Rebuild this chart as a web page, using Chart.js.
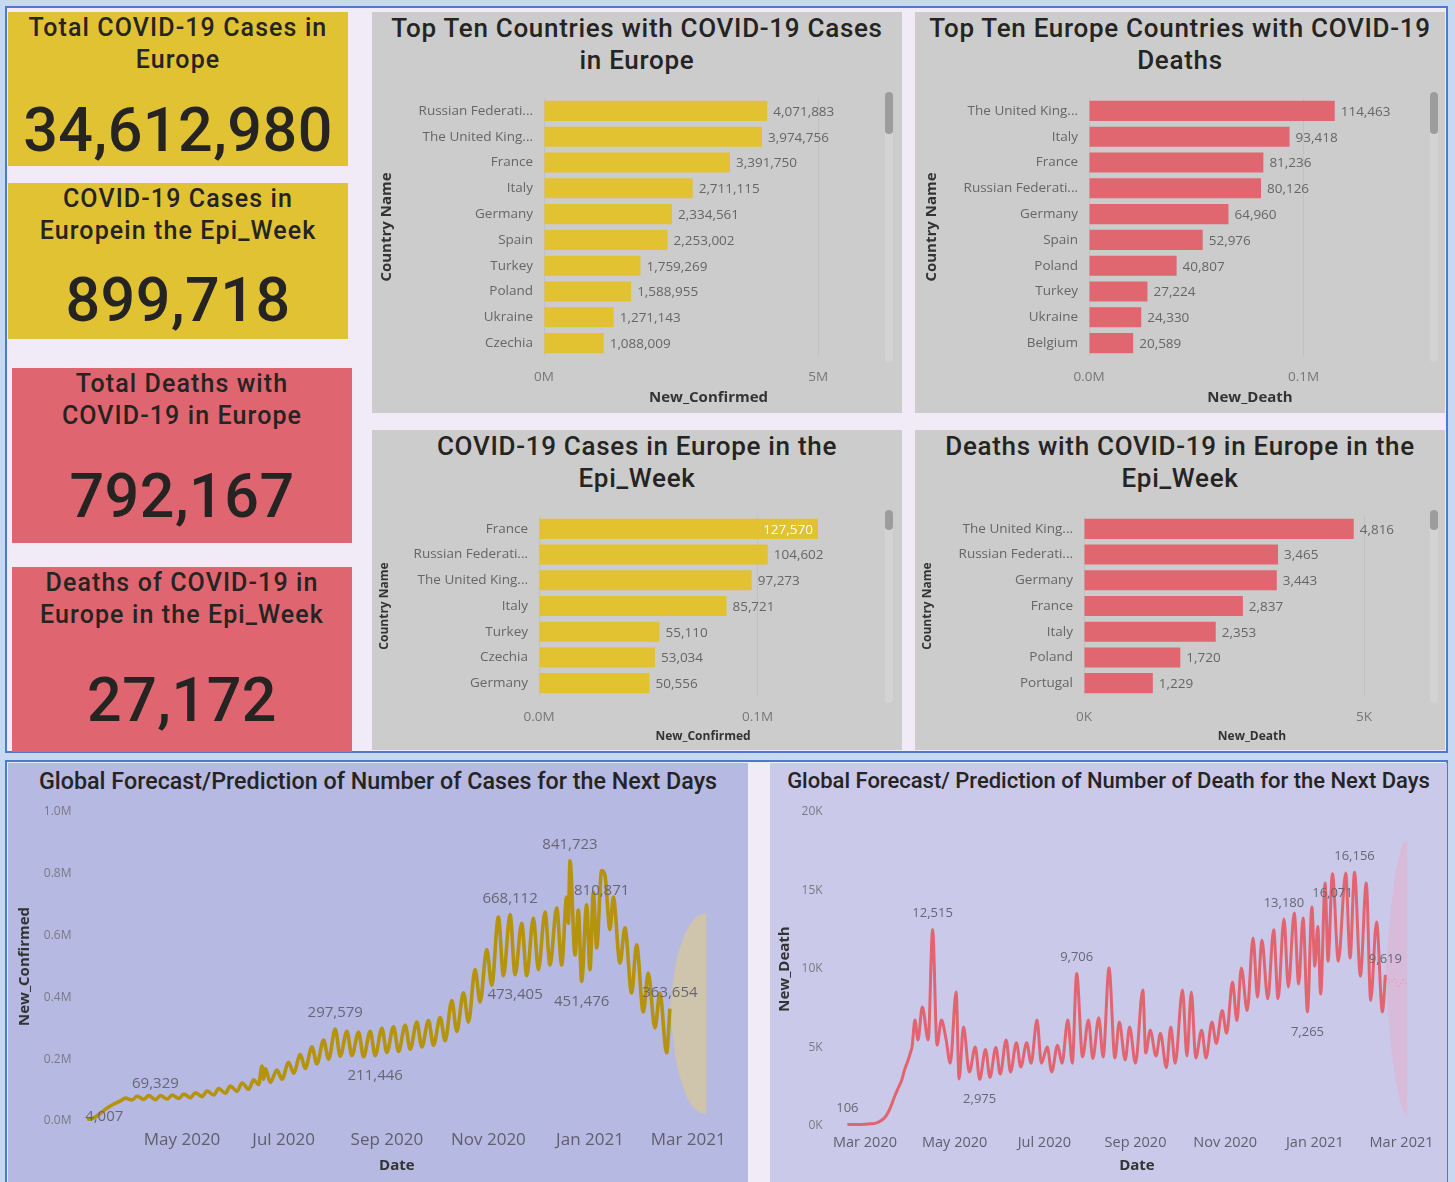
<!DOCTYPE html>
<html><head><meta charset="utf-8">
<script src="https://cdn.jsdelivr.net/npm/chart.js@4.4.0/dist/chart.umd.min.js"></script>
<style>
html,body{margin:0;padding:0;}
body{width:1455px;height:1182px;background:#c6d9f0;position:relative;overflow:hidden;font-family:Roboto,sans-serif;}
.box{position:absolute;background:#f0ebf6;border:2px solid #4a7bd0;box-sizing:border-box;}
.card{position:absolute;color:#252423;text-align:center;}
.card .t{position:absolute;left:0;right:0;top:0;font-size:25px;line-height:32px;letter-spacing:1.1px;font-weight:500;}
.card .v{position:absolute;left:0;right:0;font-size:61px;line-height:70px;font-weight:500;letter-spacing:0.5px;}
.panel{position:absolute;}
.ptitle{position:absolute;left:0;right:0;text-align:center;color:#252423;font-weight:500;}
canvas{position:absolute;}
.sb{position:absolute;width:8px;border-radius:4px;}
</style></head>
<body>
<div class="box" style="left:5px;top:6px;width:1443px;height:747px;"></div>
<div class="box" style="left:5px;top:760px;width:1443px;height:440px;"></div>

<div class="card" style="left:8px;top:12px;width:340px;height:154px;background:#e1c232;">
  <div class="t">Total COVID-19 Cases in<br>Europe</div><div class="v" id="kpi0" style="top:83px"></div></div>
<div class="card" style="left:8px;top:183px;width:340px;height:156px;background:#e1c232;">
  <div class="t">COVID-19 Cases in<br>Europein the Epi_Week</div><div class="v" id="kpi1" style="top:82px"></div></div>
<div class="card" style="left:12px;top:368px;width:340px;height:175px;background:#df6670;">
  <div class="t">Total Deaths with<br>COVID-19 in Europe</div><div class="v" id="kpi2" style="top:93px"></div></div>
<div class="card" style="left:12px;top:567px;width:340px;height:185px;background:#df6670;">
  <div class="t">Deaths of COVID-19 in<br>Europe in the Epi_Week</div><div class="v" id="kpi3" style="top:98px"></div></div>

<div class="panel" style="left:372px;top:12px;width:530px;height:401px;background:#cccccc;">
  <div class="ptitle" style="top:0;font-size:26px;line-height:32px;letter-spacing:0.7px;">Top Ten Countries with COVID-19 Cases<br>in Europe</div></div>
<div class="panel" style="left:915px;top:12px;width:530px;height:401px;background:#cccccc;">
  <div class="ptitle" style="top:0;font-size:26px;line-height:32px;letter-spacing:0.7px;">Top Ten Europe Countries with COVID-19<br>Deaths</div></div>
<div class="panel" style="left:372px;top:430px;width:530px;height:320px;background:#cccccc;">
  <div class="ptitle" style="top:0;font-size:26px;line-height:32px;letter-spacing:0.7px;">COVID-19 Cases in Europe in the<br>Epi_Week</div></div>
<div class="panel" style="left:915px;top:430px;width:530px;height:320px;background:#cccccc;">
  <div class="ptitle" style="top:0;font-size:26px;line-height:32px;letter-spacing:0.7px;">Deaths with COVID-19 in Europe in the<br>Epi_Week</div></div>

<div class="sb" style="left:885px;top:92px;height:270px;background:#d3d3d3;"></div>
<div class="sb" style="left:885px;top:92px;height:42px;background:#9c9c9c;"></div>
<div class="sb" style="left:1430px;top:92px;height:270px;background:#d3d3d3;"></div>
<div class="sb" style="left:1430px;top:92px;height:42px;background:#9c9c9c;"></div>
<div class="sb" style="left:885px;top:510px;height:193px;background:#d3d3d3;"></div>
<div class="sb" style="left:885px;top:510px;height:20px;background:#9c9c9c;"></div>
<div class="sb" style="left:1430px;top:510px;height:193px;background:#d3d3d3;"></div>
<div class="sb" style="left:1430px;top:510px;height:20px;background:#9c9c9c;"></div>

<div class="panel" style="left:8px;top:763px;width:740px;height:419px;background:#b6b9e1;">
  <div class="ptitle" style="top:3px;font-size:23.3px;line-height:30px;">Global Forecast/Prediction of Number of Cases for the Next Days</div></div>
<div class="panel" style="left:770px;top:763px;width:677px;height:419px;background:#cac9ea;">
  <div class="ptitle" style="top:3px;font-size:22px;line-height:30px;">Global Forecast/ Prediction of Number of Death for the Next Days</div></div>

<canvas id="c1"></canvas><canvas id="c2"></canvas><canvas id="c3"></canvas><canvas id="c4"></canvas>
<canvas id="c5"></canvas><canvas id="c6"></canvas>

<script>
// ---------------- DATA ----------------
const kpiValues = [34612980, 899718, 792167, 27172];

const topCasesCountries = ["Russian Federation","The United Kingdom","France","Italy","Germany","Spain","Turkey","Poland","Ukraine","Czechia"];
const topCasesValues = [4071883,3974756,3391750,2711115,2334561,2253002,1759269,1588955,1271143,1088009];

const topDeathsCountries = ["The United Kingdom","Italy","France","Russian Federation","Germany","Spain","Poland","Turkey","Ukraine","Belgium"];
const topDeathsValues = [114463,93418,81236,80126,64960,52976,40807,27224,24330,20589];

const weekCasesCountries = ["France","Russian Federation","The United Kingdom","Italy","Turkey","Czechia","Germany"];
const weekCasesValues = [127570,104602,97273,85721,55110,53034,50556];

const weekDeathsCountries = ["The United Kingdom","Russian Federation","Germany","France","Italy","Poland","Portugal"];
const weekDeathsValues = [4816,3465,3443,2837,2353,1720,1229];

// date axis: days counted from 1 Mar 2020
const monthTickDays = [61,122,184,245,306,365];
const monthTickLabels = ["May 2020","Jul 2020","Sep 2020","Nov 2020","Jan 2021","Mar 2021"];
const deathTickDays = [0,61,122,184,245,306,365];
const deathTickLabels = ["Mar 2020","May 2020","Jul 2020","Sep 2020","Nov 2020","Jan 2021","Mar 2021"];

const caseDays = [4,8,12,16,20,24,27,31,34,38,41,45,48,52,55,59,62,66,69,73,76,80,83,87,90,94,97,101,104,107,109,110,111,114,118,121,125,128,132,135,139,142,146,149,153,156,160,163,167,170,174,177,181,184,188,191,195,198,202,205,209,212,216,219,223,226,230,233,237,240,244,247,251,254,258,261,265,268,272,275,279,282,286,289,292,293,294,297,299,301,304,306,308,310,313,315,318,320,324,327,331,334,338,341,345,348,352,354];
const caseValues = [4007,10000,25000,42000,55000,65000,74000,68000,80000,70000,82000,69329,82000,71000,84000,73000,87000,75000,91000,79000,97000,84000,105000,90000,113000,96000,123000,103000,133000,118000,178000,135000,170000,125000,165000,135000,190000,155000,215000,170000,240000,185000,262000,200000,297579,210000,290000,212000,287000,208000,290000,211446,300000,222000,305000,225000,310000,232000,320000,240000,325000,245000,335000,260000,390000,290000,415000,320000,490000,385000,555000,440000,660000,470000,668112,473405,640000,470000,657000,490000,676000,505000,690000,505000,725000,640000,841723,537000,683000,451476,700000,490000,740000,560000,810871,795000,620000,725000,511000,625000,414000,570000,353000,479000,301000,414000,220000,363654];
const caseLabelDays = [4,45,153,177,258,294,261,301,313,354];
const caseLabelSide = ["r","a","a","b","a","a","b","b","b","a"];
const caseConeDays = [354,358,362,366,370,374,376];
const caseConeUpper = [363654,520000,590000,635000,660000,670000,670000];
const caseConeLower = [363654,190000,110000,60000,35000,25000,25000];

const deathDays = [-12,-8,-4,0,4,8,11,14,17,20,23,25,27,29,31,32,34,36,39,43,46,49,52,55,58,62,64,67,71,75,78,82,85,89,92,96,99,103,106,110,113,117,120,124,127,131,134,138,141,144,148,152,155,159,162,166,170,173,177,180,184,189,191,194,198,201,205,208,211,216,219,222,225,229,232,236,239,243,246,250,253,256,260,264,267,270,274,278,281,285,288,292,295,298,301,304,306,308,310,313,315,318,322,327,330,333,337,341,344,348,352,354];
const deathValues = [106,90,100,110,140,200,350,600,1100,1850,2500,2930,3600,4100,4700,5030,6750,5480,7580,5480,12515,5150,6750,5600,4000,8535,3000,6300,3440,5030,2975,4870,3100,5000,3300,5480,3440,5300,3760,5300,4000,6750,4000,5030,3440,5150,4000,6750,4000,9706,4400,6750,4300,6900,4400,10060,4330,6620,4200,6300,4000,8660,4650,6100,4460,5900,3720,6300,4000,8660,4460,8535,4330,6100,4330,6620,5260,7350,5900,9170,6720,10060,7350,11970,8200,11850,8100,12500,8100,13180,8850,13570,9050,13250,7265,13950,10180,12700,8400,15480,10500,16071,10500,16110,10700,16156,9550,15480,8000,13000,7260,9619];
const deathLabelDays = [-12,46,78,144,285,318,333,301,354];
const deathLabelSide = ["a","a","b","a","a","b","a","b","a"];
const deathConeDays = [354,357,360,363,366,369];
const deathConeUpper = [9619,13000,15500,17000,18000,18200];
const deathConeLower = [9619,6000,3500,2000,1000,600];
const deathForecastDays = [354,357,360,363,366,369];
const deathForecastValues = [9619,9100,9400,8900,9300,9000];

// ---------------- RENDER ----------------
Chart.defaults.font.family = "'Open Sans', sans-serif";
kpiValues.forEach((v,i)=>{document.getElementById('kpi'+i).textContent = v.toLocaleString('en-US');});

const TICK_FONT = 13.5;
const mctx = document.createElement('canvas').getContext('2d');
mctx.font = TICK_FONT + "px 'Open Sans'";
const maxLabelW = mctx.measureText("Russian Federati...").width + 1;
function trunc(s){
  if (mctx.measureText(s).width <= maxLabelW) return s;
  let t = s;
  while (t.length > 1 && mctx.measureText(t + "...").width > maxLabelW) t = t.slice(0,-1);
  return t + "...";
}

const valueLabels = {
  id:'valueLabels',
  afterDatasetsDraw(chart){
    const ctx = chart.ctx, meta = chart.getDatasetMeta(0), ds = chart.data.datasets[0];
    ctx.save(); ctx.font = TICK_FONT + "px 'Open Sans'"; ctx.textBaseline = 'middle';
    meta.data.forEach((bar,i)=>{
      const txt = ds.data[i].toLocaleString('en-US');
      const w = ctx.measureText(txt).width;
      if (bar.x + 6 + w > chart.chartArea.right) {
        ctx.fillStyle = '#ffffff'; ctx.textAlign = 'right'; ctx.fillText(txt, bar.x - 5, bar.y + 1);
      } else {
        ctx.fillStyle = '#666666'; ctx.textAlign = 'left'; ctx.fillText(txt, bar.x + 6, bar.y + 1);
      }
    });
    ctx.restore();
  }
};

function place(id, l, t, w, h){
  const c = document.getElementById(id);
  c.style.left = l+'px'; c.style.top = t+'px'; c.width = w; c.height = h;
  return c;
}
function fixH(h){ return s=>{ s.height = h; s.paddingLeft = 0; s.paddingRight = 0; }; }
function fixW(w){ return s=>{ s.width = w; s.paddingTop = 0; s.paddingBottom = 0; }; }

function barChart(id, rect, cats, vals, color, cfg){
  const cv = place(id, ...rect);
  return new Chart(cv, {
    type:'bar',
    data:{labels:cats, datasets:[{data:vals, backgroundColor:color, barPercentage:0.78, categoryPercentage:1}]},
    options:{
      indexAxis:'y', responsive:false, animation:false,
      layout:{padding:{left:0, right:cfg.padR, top:cfg.padT, bottom:0}},
      plugins:{legend:{display:false}, tooltip:{enabled:false}},
      scales:{
        x:{min:0, max:cfg.max,
           afterBuildTicks:s=>{s.ticks = cfg.ticks.map(v=>({value:v}));},
           ticks:{callback:cfg.fmt, color:'#777777', font:{size:13.5}, padding:13, maxRotation:0, autoSkip:false},
           grid:{drawTicks:false, color:'rgba(0,0,0,0.05)'}, border:{display:false},
           title:{display:true, text:cfg.xTitle, color:'#333333', font:{size:cfg.tSize, weight:'bold'}, padding:{top:0, bottom:cfg.tPadB}},
           afterFit:fixH(cfg.xH)},
        y:{ticks:{callback:function(v){return trunc(this.getLabelForValue(v));}, color:'#666666', font:{size:TICK_FONT}, padding:11, autoSkip:false},
           grid:{display:false, drawTicks:false}, border:{display:false},
           title:{display:true, text:'Country Name', color:'#333333', font:{size:cfg.tSize, weight:'bold'}, padding:{top:cfg.yTPad, bottom:0}},
           afterFit:fixW(cfg.yW)}
      }
    },
    plugins:[valueLabels]
  });
}

barChart('c1', [372,88,530,325], topCasesCountries, topCasesValues, '#e2c230',
  {max:6000000, ticks:[0,5000000], fmt:v=>(v/1e6)+'M', xTitle:'New_Confirmed', tSize:15, tPadB:6, xH:57, yW:172, padR:29, padT:10, yTPad:6});
barChart('c2', [915,88,530,325], topDeathsCountries, topDeathsValues, '#e06670',
  {max:150000, ticks:[0,100000], fmt:v=>(v/1e6).toFixed(1)+'M', xTitle:'New_Death', tSize:15, tPadB:6, xH:57, yW:174, padR:34, padT:10, yTPad:8});
barChart('c3', [372,505,530,245], weekCasesCountries, weekCasesValues, '#e2c230',
  {max:150000, ticks:[0,100000], fmt:v=>(v/1e6).toFixed(1)+'M', xTitle:'New_Confirmed', tSize:12, tPadB:6, xH:54, yW:167, padR:35, padT:11, yTPad:5});
barChart('c4', [915,505,530,245], weekDeathsCountries, weekDeathsValues, '#e06670',
  {max:6000, ticks:[0,5000], fmt:v=>(v/1000)+'K', xTitle:'New_Death', tSize:12, tPadB:6, xH:54, yW:169, padR:25, padT:11, yTPad:5});

const pointLabels = {
  id:'pointLabels',
  afterDatasetsDraw(chart, args, o){
    const ctx = chart.ctx, meta = chart.getDatasetMeta(0);
    ctx.save(); ctx.font = o.font; ctx.fillStyle = o.color; ctx.textBaseline = 'middle';
    o.days.forEach((d,k)=>{
      const idx = o.srcDays.indexOf(d); if (idx < 0) return;
      const p = meta.data[idx]; const txt = o.srcVals[idx].toLocaleString('en-US');
      const side = o.sides[k];
      if (side === 'r') { ctx.textAlign = 'left'; ctx.fillText(txt, p.x - 2, p.y - 3); }
      else if (side === 'a') { ctx.textAlign = 'center'; ctx.fillText(txt, p.x, p.y - 16); }
      else { ctx.textAlign = 'center'; ctx.fillText(txt, p.x, p.y + 20); }
    });
    ctx.restore();
  }
};

function xy(days, vals){ return days.map((d,i)=>({x:d, y:vals[i]})); }

function lineChart(id, rect, cfg){
  const cv = place(id, ...rect);
  return new Chart(cv, {
    type:'line',
    data:{datasets: cfg.datasets},
    options:{
      responsive:false, animation:false,
      layout:{padding:{left:0, right:cfg.padR, top:17, bottom:0}},
      plugins:{legend:{display:false}, tooltip:{enabled:false}, pointLabels:cfg.labels},
      elements:{point:{radius:0}},
      scales:{
        x:{type:'linear', min:cfg.xmin, max:cfg.xmax,
           afterBuildTicks:s=>{s.ticks = cfg.tickDays.map(v=>({value:v}));},
           ticks:{callback:v=>cfg.tickLabels[cfg.tickDays.indexOf(v)], color:'#5f5f6c', font:{size:cfg.xFont}, padding:cfg.xPad, maxRotation:0, autoSkip:false},
           grid:{display:false, drawTicks:false}, border:{display:false},
           title:{display:true, text:'Date', color:'#333333', font:{size:15, weight:'bold'}, padding:{top:0, bottom:7}},
           afterFit:fixH(cfg.xH)},
        y:{min:0, max:cfg.ymax,
           afterBuildTicks:s=>{const t=[]; for(let v=0; v<=cfg.ymax; v+=cfg.step) t.push({value:v}); s.ticks=t;},
           ticks:{callback:cfg.yfmt, color:'#7a7a86', font:{size:12}, padding:cfg.yPad},
           grid:{display:false, drawTicks:false}, border:{display:false},
           title:{display:true, text:cfg.yTitle, color:'#333333', font:{size:15, weight:'bold'}, padding:{top:cfg.yTPad, bottom:0}},
           afterFit:fixW(cfg.yW)}
      }
    },
    plugins:[pointLabels]
  });
}

lineChart('c5', [8,795,740,387], {
  datasets:[
    {data:xy(caseDays, caseValues), borderColor:'#b5930d', borderWidth:3.6, cubicInterpolationMode:'monotone', fill:false},
    {data:xy(caseConeDays, caseConeUpper), borderWidth:0, borderColor:'rgba(0,0,0,0)', tension:0.4, fill:'+1', backgroundColor:'rgba(212,199,163,0.85)'},
    {data:xy(caseConeDays, caseConeLower), borderWidth:0, borderColor:'rgba(0,0,0,0)', tension:0.4, fill:false}
  ],
  labels:{days:caseLabelDays, sides:caseLabelSide, srcDays:caseDays, srcVals:caseValues, font:"15px 'Open Sans'", color:'#676774'},
  xmin:0, xmax:380, tickDays:monthTickDays, tickLabels:monthTickLabels, xFont:17, xPad:9, xH:61,
  ymax:1000000, step:200000, yfmt:v=>(v/1e6).toFixed(1)+'M', yPad:9, yW:72.5, yTitle:'New_Confirmed', yTPad:8, padR:34.8
});

lineChart('c6', [770,795,677,387], {
  datasets:[
    {data:xy(deathDays, deathValues), borderColor:'#e2646f', borderWidth:3, cubicInterpolationMode:'monotone', fill:false},
    {data:xy(deathConeDays, deathConeUpper), borderWidth:0, borderColor:'rgba(0,0,0,0)', tension:0.4, fill:'+1', backgroundColor:'rgba(232,170,195,0.45)'},
    {data:xy(deathConeDays, deathConeLower), borderWidth:0, borderColor:'rgba(0,0,0,0)', tension:0.4, fill:false},
    {data:xy(deathForecastDays, deathForecastValues), borderWidth:1.5, borderColor:'rgba(226,100,111,0.6)', borderDash:[1,3], fill:false}
  ],
  labels:{days:deathLabelDays, sides:deathLabelSide, srcDays:deathDays, srcVals:deathValues, font:"13px 'Open Sans'", color:'#676774'},
  xmin:-20, xmax:390, tickDays:deathTickDays, tickLabels:deathTickLabels, xFont:14.5, xPad:8, xH:56,
  ymax:20000, step:5000, yfmt:v=>(v/1000)+'K', yPad:13, yW:65.6, yTitle:'New_Death', yTPad:6, padR:8.7
});
</script>
</body></html>
